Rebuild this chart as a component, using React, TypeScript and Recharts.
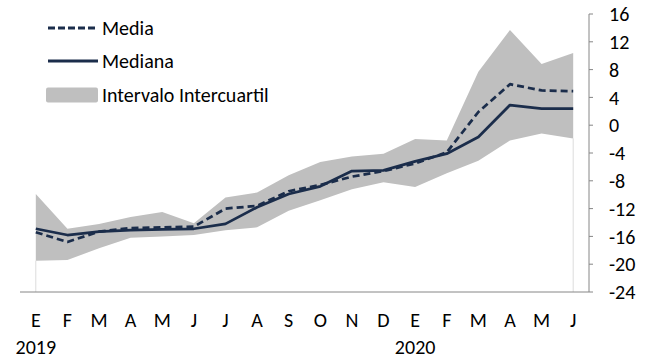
import React from 'react';
import { ComposedChart, Area, Line, XAxis, YAxis, Legend, ReferenceLine } from 'recharts';

const MONTHS = ['E', 'F', 'M', 'A', 'M', 'J', 'J', 'A', 'S', 'O', 'N', 'D', 'E', 'F', 'M', 'A', 'M', 'J'];
const YEARS: Record<number, string> = { 0: '2019', 12: '2020' };
const MEDIA = [-15.4, -16.8, -15.3, -14.8, -14.7, -14.6, -12.0, -11.6, -9.5, -8.6, -7.4, -6.6, -5.5, -3.9, 1.9, 5.9, 5.0, 4.9];
const MEDIANA = [-14.9, -15.8, -15.3, -15.1, -15.0, -14.9, -14.2, -11.8, -9.9, -8.8, -6.6, -6.5, -5.2, -4.1, -1.7, 2.9, 2.4, 2.4];
const Q_HIGH = [-9.9, -14.9, -14.2, -13.2, -12.5, -14.1, -10.4, -9.7, -7.2, -5.3, -4.5, -4.1, -2.0, -2.2, 7.7, 13.7, 8.8, 10.4];
const Q_LOW = [-19.5, -19.4, -17.7, -16.2, -16.0, -15.8, -15.1, -14.7, -12.3, -10.8, -9.2, -8.2, -8.9, -6.9, -5.1, -2.2, -1.2, -1.9];
const Y_TICKS = [-24, -20, -16, -12, -8, -4, 0, 4, 8, 12, 16];

const data = MONTHS.map((m, i) => ({
  pos: i + 0.5,
  month: m,
  media: MEDIA[i],
  mediana: MEDIANA[i],
  range: [Q_LOW[i], Q_HIGH[i]],
}));

const BOUNDARY_TICKS = Array.from({ length: MONTHS.length + 1 }, (_, i) => i);
const LABEL_TICKS = MONTHS.map((_, i) => i + 0.5);

const FONT = 'Carlito, Lato, sans-serif';
const FS = 20;
const NAVY = '#1b2d4b';
const GRAY = '#bfbfbf';
const AXIS = '#868686';

const MonthTick = (props: any) => {
  const { x, y, payload } = props;
  const i = Math.floor(payload.value);
  const yr = YEARS[i];
  return (
    <g>
      <text x={x} y={y} dy={27} textAnchor="middle" fill="#000" fontSize={FS} fontFamily={FONT}>
        {MONTHS[i]}
      </text>
      {yr && (
        <text x={x} y={y} dy={54} textAnchor="middle" fill="#000" fontSize={FS} fontFamily={FONT}>
          {yr}
        </text>
      )}
    </g>
  );
};

const LEGEND_ITEMS = [
  { key: 'media', label: 'Media' },
  { key: 'mediana', label: 'Mediana' },
  { key: 'range', label: 'Intervalo Intercuartil' },
];

const renderLegend = () => (
  <div style={{ fontFamily: FONT, fontSize: FS, color: '#000' }}>
    {LEGEND_ITEMS.map((it) => (
      <div key={it.key} style={{ display: 'flex', alignItems: 'center', height: 33.5 }}>
        <svg width={52} height={16} style={{ display: 'block' }}>
          {it.key === 'media' && (
            <line x1={2} y1={8} x2={52} y2={8} stroke={NAVY} strokeWidth={3} strokeDasharray="7 3" />
          )}
          {it.key === 'mediana' && <line x1={2} y1={8} x2={52} y2={8} stroke={NAVY} strokeWidth={3} />}
          {it.key === 'range' && <rect x={0} y={0.5} width={52} height={15} rx={2} fill={GRAY} />}
        </svg>
        <span style={{ marginLeft: 4, whiteSpace: 'nowrap' }}>{it.label}</span>
      </div>
    ))}
  </div>
);

export default function App() {
  const last = data.length - 1;
  return (
    <div style={{ position: 'absolute', left: 0, top: 0, width: 652, height: 358, background: '#fff' }}>
      <ComposedChart width={652} height={358} data={data} margin={{ top: 14, right: 0, left: 20, bottom: 0 }}>
        <XAxis
          xAxisId="b"
          dataKey="pos"
          type="number"
          domain={[0, MONTHS.length]}
          ticks={BOUNDARY_TICKS}
          tick={false}
          tickSize={5}
          height={8}
          allowDataOverflow
          axisLine={{ stroke: AXIS, strokeWidth: 1 }}
          tickLine={{ stroke: AXIS, strokeWidth: 1 }}
        />
        <XAxis
          xAxisId="l"
          dataKey="pos"
          type="number"
          domain={[0, MONTHS.length]}
          ticks={LABEL_TICKS}
          allowDataOverflow
          height={58}
          axisLine={false}
          tickLine={false}
          tickSize={0}
          tickMargin={0}
          tick={<MonthTick />}
          interval={0}
        />
        <YAxis
          orientation="right"
          domain={[-24, 16]}
          ticks={Y_TICKS}
          width={63}
          interval={0}
          allowDataOverflow
          tickSize={4}
          tickMargin={16}
          axisLine={{ stroke: AXIS, strokeWidth: 1 }}
          tickLine={{ stroke: AXIS, strokeWidth: 1 }}
          tick={{ fill: '#000', fontSize: FS, fontFamily: FONT }}
        />
        <Legend
          layout="vertical"
          align="center"
          verticalAlign="middle"
          content={renderLegend}
          wrapperStyle={{ position: 'absolute', left: 46, top: 11, width: 280 }}
        />
        <ReferenceLine
          xAxisId="b"
          segment={[{ x: data[0].pos, y: -24 }, { x: data[0].pos, y: Q_LOW[0] }]}
          stroke="#dcdcdc"
          strokeWidth={1}
        />
        <ReferenceLine
          xAxisId="b"
          segment={[{ x: data[last].pos, y: -24 }, { x: data[last].pos, y: Q_LOW[last] }]}
          stroke="#dcdcdc"
          strokeWidth={1}
        />
        <Area
          xAxisId="b"
          dataKey="range"
          name="Intervalo Intercuartil"
          type="linear"
          fill={GRAY}
          fillOpacity={1}
          stroke="none"
          isAnimationActive={false}
        />
        <Line
          xAxisId="b"
          dataKey="mediana"
          name="Mediana"
          type="linear"
          stroke={NAVY}
          strokeWidth={2.75}
          dot={false}
          strokeLinejoin="round"
          isAnimationActive={false}
        />
        <Line
          xAxisId="b"
          dataKey="media"
          name="Media"
          type="linear"
          stroke={NAVY}
          strokeWidth={2.75}
          strokeDasharray="7 4"
          dot={false}
          strokeLinejoin="round"
          isAnimationActive={false}
        />
      </ComposedChart>
    </div>
  );
}
